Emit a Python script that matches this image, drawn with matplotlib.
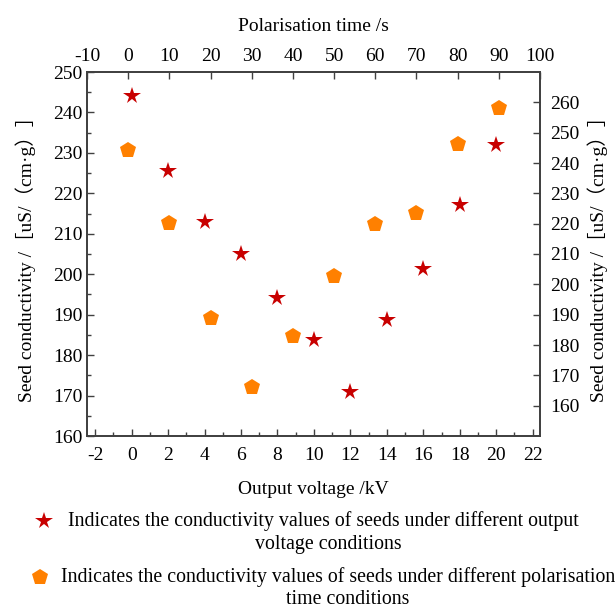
import matplotlib.pyplot as plt
from matplotlib.ticker import MultipleLocator
from matplotlib.lines import Line2D

# output voltage series (bottom x, left y)
voltage_kv = [0, 2, 4, 6, 8, 10, 12, 14, 16, 18, 20]
voltage_conductivity = [244.1, 225.5, 213.0, 205.0, 194.1, 183.8, 171.0, 188.6, 201.3, 217.1, 231.9]

# polarisation time series (top x, right y)
time_s = [0, 10, 20, 30, 40, 50, 60, 70, 80, 90]
time_conductivity = [244.3, 220.1, 188.8, 166.0, 183.1, 202.8, 219.8, 223.5, 246.2, 258.2]

STAR_COLOR = "#C80000"
PENT_COLOR = "#FF8000"
SPINE = "#404040"
FS = 14
LEG_FS = 14.3
FAMILY = ['Liberation Serif', 'Noto Sans CJK SC']

plt.rcParams['font.family'] = FAMILY
plt.rcParams['axes.unicode_minus'] = False

fig = plt.figure(figsize=(6.16, 6.09), dpi=100)
ax = fig.add_axes([87 / 616, 1 - 436 / 609, (540 - 87) / 616, (436 - 72) / 609])
ax2 = ax.twinx()
ax3 = ax2.twiny()

ax.plot(voltage_kv, voltage_conductivity, linestyle='none', marker='*',
        markersize=13, color=STAR_COLOR, markeredgewidth=0)
ax3.plot(time_s, time_conductivity, linestyle='none', marker='p',
         markersize=12, color=PENT_COLOR, markeredgewidth=0)

ax.set_xlim(-2.45, 22.4)
ax.set_ylim(160, 250)
ax2.set_ylim(150, 270)
ax3.set_xlim(-10, 100)

ax.xaxis.set_major_locator(MultipleLocator(2))
ax.xaxis.set_minor_locator(MultipleLocator(1))
ax.yaxis.set_major_locator(MultipleLocator(10))
ax.yaxis.set_minor_locator(MultipleLocator(5))
ax2.set_yticks(range(160, 261, 10))
ax3.set_xticks(range(-10, 101, 10))

for a in (ax, ax2, ax3):
    for s in a.spines.values():
        s.set_color(SPINE)
        s.set_linewidth(1.1)

ax.tick_params(axis='both', which='major', direction='in', length=5, width=1,
               color=SPINE, labelsize=FS, top=False, right=False)
ax.tick_params(axis='x', which='major', pad=8)
ax.tick_params(axis='both', which='minor', direction='in', length=3, width=1,
               color=SPINE, top=False, right=False)
ax2.tick_params(axis='y', which='both', direction='in', length=5, width=1,
                color=SPINE, labelsize=FS, pad=7)
ax3.tick_params(axis='x', which='both', direction='in', length=5, width=1,
                color=SPINE, labelsize=FS, pad=5)

ylab = "Seed conductivity /［uS/（cm·g）］"
ax.set_xlabel("Output voltage /kV", fontsize=FS, labelpad=12)
ax.set_ylabel(ylab, fontsize=FS, labelpad=12)
ax2.set_ylabel(ylab, fontsize=FS, labelpad=6)
ax3.set_xlabel("Polarisation time /s", fontsize=FS, labelpad=12)

# legend below the plot
fig.add_artist(Line2D([44 / 616], [1 - 521 / 609], marker='*', markersize=13,
                      color=STAR_COLOR, markeredgewidth=0, linestyle='none'))
fig.text(68 / 616, 1 - 521 / 609, "Indicates the conductivity values of seeds under different output",
         fontsize=LEG_FS, ha='left', va='center')
fig.text(328 / 616, 1 - 545 / 609, "voltage conditions", fontsize=LEG_FS, ha='center', va='center')
fig.add_artist(Line2D([40 / 616], [1 - 577 / 609], marker='p', markersize=12,
                      color=PENT_COLOR, markeredgewidth=0, linestyle='none'))
fig.text(61 / 616, 1 - 577 / 609, "Indicates the conductivity values of seeds under different polarisation",
         fontsize=LEG_FS, ha='left', va='center')
fig.text(348 / 616, 1 - 600 / 609, "time conditions", fontsize=LEG_FS, ha='center', va='center')

fig.savefig("out.png", dpi=100)
